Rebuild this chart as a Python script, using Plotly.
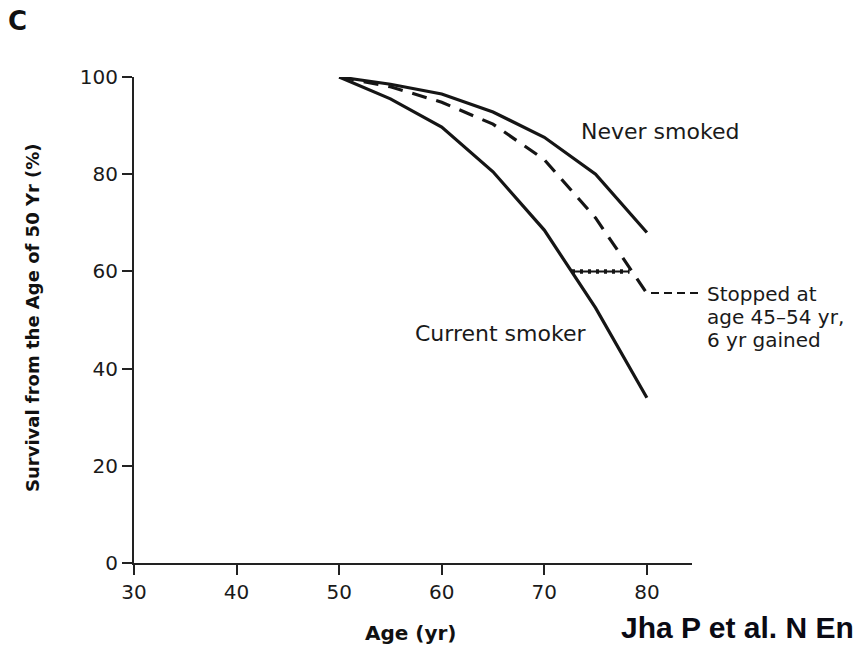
import plotly.graph_objects as go

# ---- data ----
ages = [50, 55, 60, 65, 70, 75, 80]
never_smoked = [100, 98.5, 96.5, 92.8, 87.6, 80.0, 68.0]
current_smoker = [100, 95.5, 89.7, 80.5, 68.5, 52.5, 34.0]
stopped_45_54 = [100, 98.0, 94.8, 90.3, 83.0, 71.0, 55.5]
gained_x = [72.7, 78.3]
gained_y = [60, 60]

x_ticks = [30, 40, 50, 60, 70, 80]
y_ticks = [0, 20, 40, 60, 80, 100]

stopped_label = ["Stopped at", "age 45\u201354 yr,", "6 yr gained"]

# ---- layout geometry (pixels) ----
W, H = 860, 648
L, R, T, B = 134, 168, 77, 85
PW, PH = W - L - R, H - T - B

def px(xp):
    return (xp - L) / PW

def py(yp):
    return (H - B - yp) / PH

INK = "#151515"
LW = 3.2

fig = go.Figure()
fig.add_trace(go.Scatter(x=ages, y=never_smoked, mode="lines",
                         line=dict(color=INK, width=LW), hoverinfo="skip"))
fig.add_trace(go.Scatter(x=ages, y=current_smoker, mode="lines",
                         line=dict(color=INK, width=LW), hoverinfo="skip"))
fig.add_trace(go.Scatter(x=ages, y=stopped_45_54, mode="lines",
                         line=dict(color=INK, width=LW, dash="15px,10px"), hoverinfo="skip"))
fig.add_trace(go.Scatter(x=gained_x, y=gained_y, mode="lines",
                         line=dict(color=INK, width=2), hoverinfo="skip"))
fig.add_trace(go.Scatter(x=gained_x, y=gained_y, mode="lines",
                         line=dict(color=INK, width=4.5, dash="3px,5px"), hoverinfo="skip"))

axis_common = dict(
    showgrid=False, zeroline=False, showline=True, linecolor="#222222", linewidth=2,
    ticks="outside", ticklen=10, tickwidth=2, tickcolor="#222222",
    tickfont=dict(family="DejaVu Sans", size=20, color="#1a1a1a"),
    fixedrange=True,
)

fig.update_layout(
    width=W, height=H,
    margin=dict(l=L, r=R, t=T, b=B, pad=0),
    paper_bgcolor="white", plot_bgcolor="white",
    showlegend=False,
    xaxis=dict(range=[30, 84.4], tickvals=x_ticks, **axis_common),
    yaxis=dict(range=[0, 100], tickvals=y_ticks, **axis_common),
)

lab_font = dict(family="DejaVu Sans", size=22, color="#1a1a1a")
annots = [
    dict(text="<b>C</b>", x=px(17), y=py(21.5), xref="paper", yref="paper",
         xanchor="center", yanchor="middle", showarrow=False,
         font=dict(family="DejaVu Sans", size=26, color="#111111")),
    dict(text="<b>Survival from the Age of 50 Yr (%)</b>", x=px(32), y=py(318),
         xref="paper", yref="paper", textangle=-90, xanchor="center", yanchor="middle",
         showarrow=False, font=dict(family="DejaVu Sans", size=18, color="#111111")),
    dict(text="<b>Age (yr)</b>", x=px(411), y=py(633), xref="paper", yref="paper",
         xanchor="center", yanchor="middle", showarrow=False,
         font=dict(family="DejaVu Sans", size=20, color="#111111")),
    dict(text="Never smoked", x=px(660), y=py(131), xref="paper", yref="paper",
         xanchor="center", yanchor="middle", showarrow=False, font=lab_font),
    dict(text="Current smoker", x=px(500), y=py(333), xref="paper", yref="paper",
         xanchor="center", yanchor="middle", showarrow=False, font=lab_font),
    dict(text="<b>Jha P et al. N En</b>", x=px(619), y=py(627), xref="paper",
         yref="paper", xanchor="left", yanchor="middle", showarrow=False,
         font=dict(family="Liberation Sans", size=30, color="#0a0a14")),
]
for i, line in enumerate(stopped_label):
    annots.append(dict(text=line, x=px(705), y=py(294 + 23 * i), xref="paper", yref="paper",
                       xanchor="left", yanchor="middle", showarrow=False,
                       font=dict(family="DejaVu Sans", size=20, color="#1a1a1a")))
fig.update_layout(annotations=annots)

fig.add_shape(type="line", xref="paper", yref="paper",
              x0=px(651), x1=px(701), y0=py(293), y1=py(293),
              line=dict(color=INK, width=2, dash="8px,5px"))

fig.write_html("out.html")
